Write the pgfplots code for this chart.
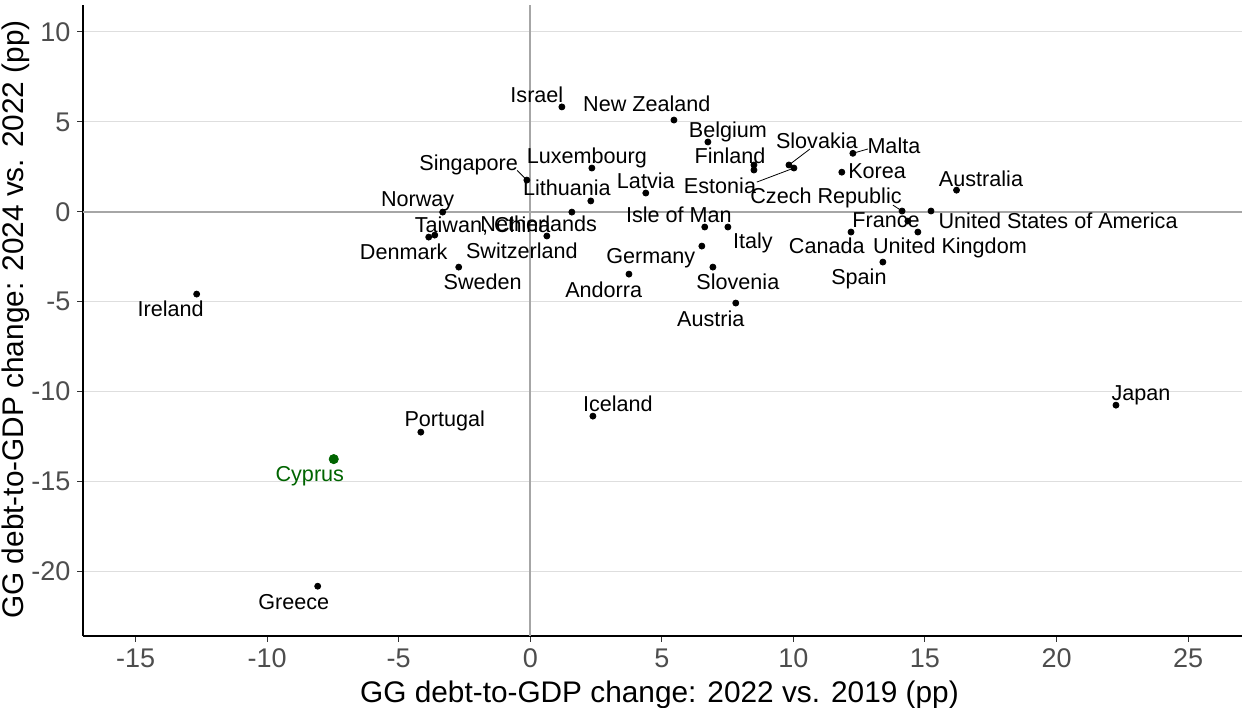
\documentclass[border=0pt]{standalone}
\usepackage{fontspec}
\setmainfont{Liberation Sans}
\usepackage{pgfplots}
\pgfplotsset{compat=1.18}
\usepackage{pgfplotstable}
\definecolor{gridc}{HTML}{DEDEDE}
\definecolor{zeroc}{HTML}{A6A6A6}
\definecolor{tickc}{HTML}{4D4D4D}
\definecolor{cyp}{HTML}{006400}

\pgfplotstableread{
x y
1.20 5.83
5.46 5.10
6.75 3.88
8.50 2.60
8.50 2.32
9.83 2.60
10.02 2.43
12.26 3.25
11.84 2.20
16.20 1.20
-0.13 1.76
2.34 2.43
4.39 1.04
2.30 0.60
1.58 -0.02
-3.33 -0.02
-3.63 -1.30
-3.86 -1.41
0.63 -1.35
-2.72 -3.08
6.63 -0.85
7.51 -0.85
6.52 -1.91
6.94 -3.08
3.75 -3.47
7.81 -5.08
14.13 0.04
15.23 0.04
14.35 -0.52
14.73 -1.13
12.19 -1.13
13.40 -2.80
-12.68 -4.58
2.38 -11.37
22.26 -10.76
-4.16 -12.26
-8.08 -20.83
}\countries

\pgfplotstableread{
x y
-7.47 -13.76
}\cyprus

\begin{document}
\begin{tikzpicture}
\begin{axis}[name=ax, scale only axis, width=579.5pt, height=315.5pt,
 xmin=-17, xmax=27.05, ymin=-23.6, ymax=11.5,
 axis x line*=bottom, axis y line*=left,
 axis line style={black, line width=0.6pt, -},
 xtick={-15,-10,...,25}, ytick={-20,-15,...,10},
 tick align=outside, major tick length=2.75pt,
 tick style={color=black!80, line width=0.5pt},
 ymajorgrids, major grid style={gridc, line width=0.5pt},
 /pgf/number format/assume math mode=true,
 ticklabel style={font=\fontsize{13.5}{14}\selectfont, text=tickc},
 xlabel={GG debt-to-GDP change: 2022 vs. 2019 (pp)},
 ylabel={GG debt-to-GDP change: 2024 vs. 2022 (pp)},
 label style={font=\fontsize{14.9}{17}\selectfont, inner sep=0pt, text height=10.7pt, text depth=0pt},
 xlabel style={at={(axis description cs:0.4974,-0.0883)}, anchor=center},
 ylabel style={at={(axis description cs:-0.0608,0.5016)}, anchor=center},
 clip=false,
]
\draw[zeroc, line width=1pt] (axis cs:0,-23.6) -- (axis cs:0,11.5);
\draw[zeroc, line width=1pt] (axis cs:-17,0) -- (axis cs:27.05,0);

\addplot[only marks, mark=*, mark size=1.5pt, black] table[x=x,y=y]{\countries};
\addplot[only marks, mark=*, mark size=2.3pt, cyp, mark options={draw=cyp, fill=cyp}] table[x=x,y=y]{\cyprus};

% connector segments
\draw[black, line width=0.4pt] (axis cs:-0.5,2.3) -- (axis cs:-0.13,1.76);
\draw[black, line width=0.4pt] (axis cs:10.63,3.49) -- (axis cs:9.83,2.6);
\draw[black, line width=0.4pt] (axis cs:8.61,1.65) -- (axis cs:10.02,2.43);
\draw[black, line width=0.4pt] (axis cs:12.83,3.49) -- (axis cs:12.26,3.25);
\draw[black, line width=0.4pt] (axis cs:13.78,0.37) -- (axis cs:14.13,0.04);

\tikzset{lab/.style={inner sep=0pt, anchor=center, text height=7.7pt, text depth=0pt, font=\fontsize{10.8}{12}\selectfont}}
\node[lab] at (axis cs:0.25,6.49) {Israel};
\node[lab] at (axis cs:4.43,5.99) {New Zealand};
\node[lab] at (axis cs:7.51,4.55) {Belgium};
\node[lab] at (axis cs:10.89,3.94) {Slovakia};
\node[lab] at (axis cs:13.82,3.66) {Malta};
\node[lab] at (axis cs:7.59,3.10) {Finland};
\node[lab] at (axis cs:-2.34,2.71) {Singapore};
\node[lab] at (axis cs:2.15,3.10) {Luxembourg};
\node[lab] at (axis cs:13.18,2.26) {Korea};
\node[lab] at (axis cs:1.39,1.32) {Lithuania};
\node[lab] at (axis cs:4.39,1.71) {Latvia};
\node[lab] at (axis cs:7.21,1.43) {Estonia};
\node[lab] at (axis cs:11.24,0.87) {Czech Republic};
\node[lab] at (axis cs:17.13,1.82) {Australia};
\node[lab] at (axis cs:-4.28,0.71) {Norway};
\node[lab] at (axis cs:5.65,-0.18) {Isle of Man};
\node[lab] at (axis cs:0.32,-0.68) {Netherlands};
\node[lab] at (axis cs:-1.81,-0.74) {Taiwan, China};
\node[lab] at (axis cs:13.52,-0.46) {France};
\node[lab] at (axis cs:20.06,-0.52) {United States of America};
\node[lab] at (axis cs:-4.81,-2.24) {Denmark};
\node[lab] at (axis cs:-0.32,-2.19) {Switzerland};
\node[lab] at (axis cs:8.46,-1.63) {Italy};
\node[lab] at (axis cs:11.27,-1.91) {Canada};
\node[lab] at (axis cs:15.95,-1.91) {United Kingdom};
\node[lab] at (axis cs:4.58,-2.47) {Germany};
\node[lab] at (axis cs:-1.81,-3.91) {Sweden};
\node[lab] at (axis cs:2.79,-4.36) {Andorra};
\node[lab] at (axis cs:7.89,-3.91) {Slovenia};
\node[lab] at (axis cs:12.49,-3.63) {Spain};
\node[lab] at (axis cs:-13.67,-5.41) {Ireland};
\node[lab] at (axis cs:6.86,-5.97) {Austria};
\node[lab] at (axis cs:3.33,-10.70) {Iceland};
\node[lab] at (axis cs:23.21,-10.09) {Japan};
\node[lab] at (axis cs:-3.25,-11.54) {Portugal};
\node[lab, text=cyp] at (axis cs:-8.38,-14.6) {Cyprus};
\node[lab] at (axis cs:-8.99,-21.72) {Greece};
\end{axis}
\pgfresetboundingbox
\useasboundingbox ([xshift=-41.5pt,yshift=-35.5pt]ax.south west) rectangle ([yshift=2.5pt]ax.north east);
\end{tikzpicture}
\end{document}
